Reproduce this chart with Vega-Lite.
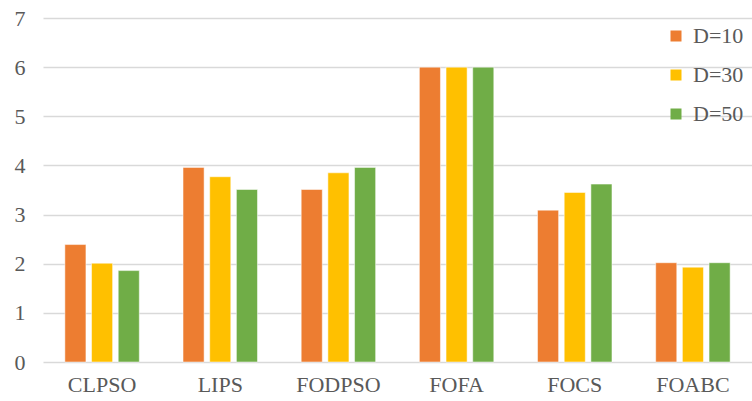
{
  "$schema": "https://vega.github.io/schema/vega-lite/v6.json",
  "width": 709,
  "height": 344,
  "autosize": {"type": "none"},
  "padding": {"left": 43, "top": 18, "right": 0, "bottom": 39},
  "background": "white",
  "data": {
    "values": [
      {"alg": "CLPSO", "D": "D=10", "v": 2.39},
      {"alg": "CLPSO", "D": "D=30", "v": 2.01},
      {"alg": "CLPSO", "D": "D=50", "v": 1.86},
      {"alg": "LIPS", "D": "D=10", "v": 3.96},
      {"alg": "LIPS", "D": "D=30", "v": 3.77},
      {"alg": "LIPS", "D": "D=50", "v": 3.51},
      {"alg": "FODPSO", "D": "D=10", "v": 3.51},
      {"alg": "FODPSO", "D": "D=30", "v": 3.85},
      {"alg": "FODPSO", "D": "D=50", "v": 3.96},
      {"alg": "FOFA", "D": "D=10", "v": 6.0},
      {"alg": "FOFA", "D": "D=30", "v": 6.0},
      {"alg": "FOFA", "D": "D=50", "v": 6.0},
      {"alg": "FOCS", "D": "D=10", "v": 3.09},
      {"alg": "FOCS", "D": "D=30", "v": 3.45},
      {"alg": "FOCS", "D": "D=50", "v": 3.62},
      {"alg": "FOABC", "D": "D=10", "v": 2.02},
      {"alg": "FOABC", "D": "D=30", "v": 1.93},
      {"alg": "FOABC", "D": "D=50", "v": 2.02}
    ]
  },
  "mark": {"type": "bar", "stroke": "white", "strokeWidth": 0.5},
  "encoding": {
    "x": {
      "field": "alg",
      "type": "nominal",
      "sort": null,
      "scale": {"paddingInner": 0.37, "paddingOuter": 0.185},
      "axis": {
        "title": null,
        "labelAngle": 0,
        "ticks": false,
        "domain": false,
        "labelFont": "'Times New Roman', 'Liberation Serif', serif",
        "labelFontSize": 22,
        "labelColor": "#595959",
        "labelPadding": 12
      }
    },
    "xOffset": {
      "field": "D",
      "type": "nominal",
      "scale": {"paddingInner": 0.21, "paddingOuter": 0}
    },
    "y": {
      "field": "v",
      "type": "quantitative",
      "scale": {"domain": [0, 7], "nice": false},
      "axis": {
        "title": null,
        "values": [0, 1, 2, 3, 4, 5, 6, 7],
        "labelOverlap": false,
        "ticks": false,
        "domain": false,
        "gridColor": "#d9d9d9",
        "gridWidth": 1.5,
        "labelFont": "'Times New Roman', 'Liberation Serif', serif",
        "labelFontSize": 22,
        "labelColor": "#595959",
        "labelPadding": 18
      }
    },
    "color": {
      "field": "D",
      "type": "nominal",
      "scale": {"domain": ["D=10", "D=30", "D=50"], "range": ["#ED7D31", "#FFC000", "#70AD47"]},
      "legend": {
        "title": null,
        "orient": "none",
        "legendX": 622,
        "legendY": 7,
        "symbolType": "square",
        "symbolSize": 121,
        "symbolStrokeWidth": 0,
        "labelFont": "'Times New Roman', 'Liberation Serif', serif",
        "labelFontSize": 22,
        "labelColor": "#595959",
        "labelOffset": 6,
        "rowPadding": 17
      }
    }
  },
  "config": {"view": {"stroke": null}}
}
